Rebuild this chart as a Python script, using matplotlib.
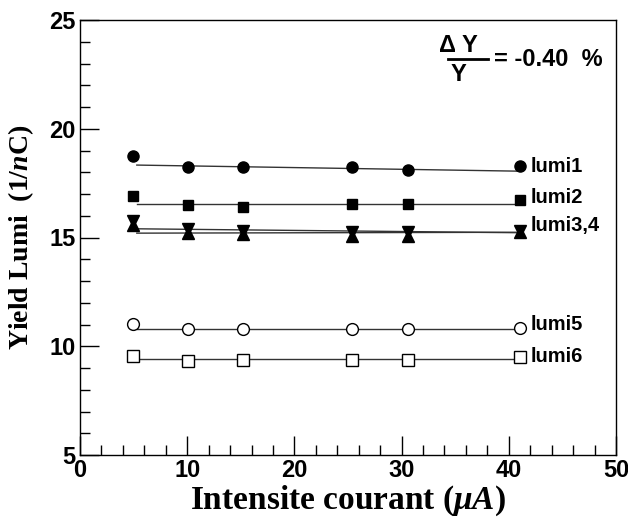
import matplotlib
matplotlib.use('Agg')
import matplotlib.pyplot as plt
from matplotlib.ticker import MultipleLocator

plt.rcParams['mathtext.fontset']='custom'
plt.rcParams['mathtext.it']='Liberation Serif:italic:bold'
plt.rcParams['mathtext.rm']='Liberation Sans:bold'
plt.rcParams['mathtext.bf']='Liberation Sans:bold'

# current points (uA)
current=[4.9,10.1,15.2,25.4,30.6,41.0]

lumi1=[18.75,18.25,18.22,18.22,18.10,18.30]
lumi2=[16.90,16.48,16.42,16.52,16.52,16.72]
lumi3=[15.74,15.38,15.30,15.23,15.23,15.30]  # triangle down
lumi4=[15.57,15.20,15.18,15.08,15.09,15.27]  # triangle up
lumi5=[11.04,10.80,10.78,10.78,10.80,10.84]
lumi6=[9.55,9.34,9.36,9.38,9.37,9.52]

# fitted lines, read at both ends
fit_x=[5.3,40.9]
fit1=[18.33,18.05]
fit2=[16.52,16.52]
fit3=[15.40,15.22]
fit4=[15.20,15.24]
fit5=[10.79,10.79]
fit6=[9.41,9.41]

names=['lumi1','lumi2','lumi3,4','lumi5','lumi6']
name_y=[18.25,16.85,15.55,11.0,9.55]

sans=['Liberation Sans','DejaVu Sans']
serif=['Liberation Serif','DejaVu Serif']

fig=plt.figure(figsize=(6.28,5.17),dpi=100)
ax=fig.add_axes([80/628,1-455/517,536/628,435/517])

lc='#333333'
for f in [fit1,fit2,fit3,fit4,fit5,fit6]:
	ax.plot(fit_x,f,'-',color=lc,lw=1)

ax.plot(current,lumi1,'o',color='k',ms=8,ls='none')
ax.plot(current,lumi2,'s',color='k',ms=7.5,ls='none')
ax.plot(current,lumi3,'v',color='k',ms=8,ls='none')
ax.plot(current,lumi4,'^',color='k',ms=8,ls='none')
ax.plot(current,lumi5,'o',mfc='white',mec='k',mew=1,ms=8.5,ls='none')
ax.plot(current,lumi6,'s',mfc='white',mec='k',mew=1,ms=8.5,ls='none')

for n,y in zip(names,name_y):
	ax.text(42.0,y,n,family=sans,fontweight='bold',fontsize=14.5,va='center',ha='left')

ax.set_xlim(0,50)
ax.set_ylim(5,25)
ax.xaxis.set_major_locator(MultipleLocator(10))
ax.xaxis.set_minor_locator(MultipleLocator(2))
ax.yaxis.set_major_locator(MultipleLocator(5))
ax.yaxis.set_minor_locator(MultipleLocator(1))
ax.tick_params(which='both',direction='in',top=False,right=False,width=1,color='k')
ax.tick_params(which='major',length=14,pad=3)
ax.tick_params(which='minor',length=7)
for lab in ax.get_xticklabels()+ax.get_yticklabels():
	lab.set_family(sans)
	lab.set_fontweight('bold')
	lab.set_fontsize(17)
for s in ax.spines.values():
	s.set_linewidth(1)

ax.set_xlabel(r'Intensite courant ($\mu A$)',family=serif,fontweight='bold',fontsize=24,labelpad=1)
ax.set_ylabel(r'Yield Lumi  (1/$n$C)',family=serif,fontweight='bold',fontsize=20,labelpad=10)

# delta Y / Y annotation
ax.text(0.706,0.915,r'$\Delta$ Y',transform=ax.transAxes,family=sans,fontweight='bold',fontsize=17,ha='center',va='bottom')
ax.text(0.706,0.902,'Y',transform=ax.transAxes,family=sans,fontweight='bold',fontsize=17,ha='center',va='top')
ax.plot([0.686,0.762],[0.91,0.91],color='k',lw=2,transform=ax.transAxes)
ax.text(0.772,0.91,'= -0.40  %',transform=ax.transAxes,family=sans,fontweight='bold',fontsize=17,ha='left',va='center')

fig.savefig('out.png',dpi=100)
